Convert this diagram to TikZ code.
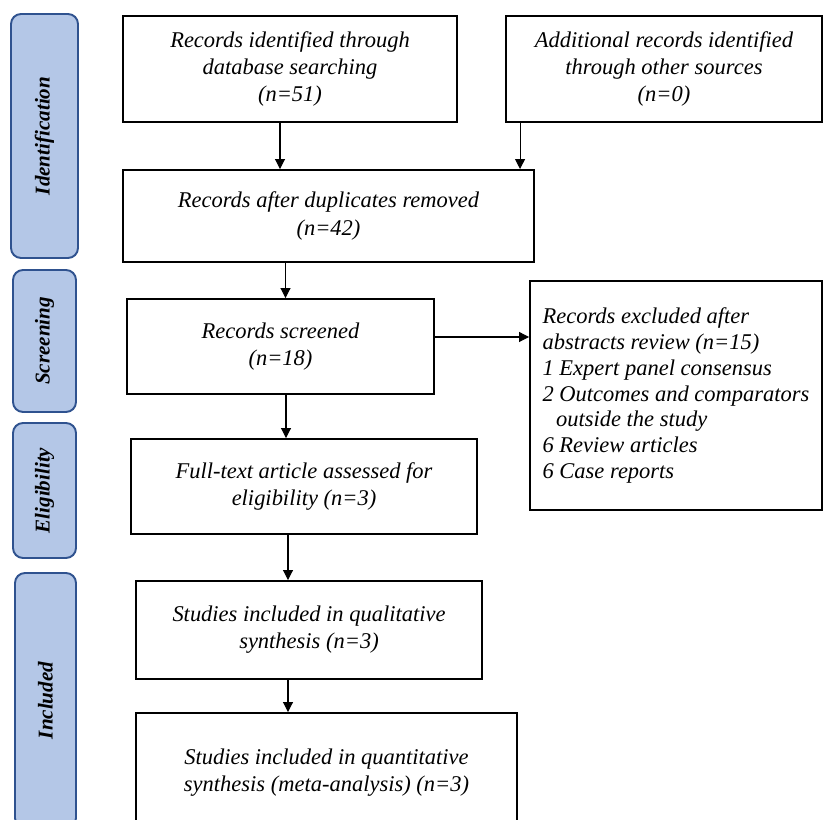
\documentclass[tikz,border=0pt]{standalone}
\usepackage{fontspec}
\setmainfont{Liberation Serif}
\usetikzlibrary{arrows.meta}
\definecolor{phasefill}{HTML}{B4C7E7}
\definecolor{phasedraw}{HTML}{2F528F}

\begin{document}
\begin{tikzpicture}[
    box/.style={draw, line width=1.1pt, align=center, inner sep=2pt,
      font=\fontsize{12.8}{15.4}\selectfont\itshape},
    phase/.style={draw=phasedraw, fill=phasefill, line width=1.1pt,
      rounded corners=0.2cm, rotate=90,
      font=\fontsize{12}{14}\selectfont\bfseries\itshape},
    arr/.style={-{Triangle[length=0.2cm,width=0.2cm]}, line width=0.6pt}
  ]
  \clip (0,0) rectangle (16.5,16.4);

  % Phases
  \node[phase, minimum width=4.88cm, minimum height=1.34cm] (pid) at (0.89,13.68) {Identification};
  \node[phase, minimum width=2.84cm, minimum height=1.26cm] (pscr) at (0.89,9.58) {Screening};
  \node[phase, minimum width=2.70cm, minimum height=1.26cm] (pelig) at (0.89,6.59) {Eligibility};
  \node[phase, minimum width=5.10cm, minimum height=1.22cm] (pincl) at (0.91,2.39) {Included};

  % Boxes
  \node[box, minimum width=6.68cm, minimum height=2.12cm] (rec) at (5.80,15.02)
    {Records identified through\\database searching\\(n=51)};
  \node[box, minimum width=6.32cm, minimum height=2.12cm] (add) at (13.28,15.02)
    {Additional records identified\\through other sources\\(n=0)};
  \node[box, minimum width=8.22cm, minimum height=1.84cm] (dup) at (6.57,12.08)
    {Records after duplicates removed\\(n=42)};
  \node[box, minimum width=6.14cm, minimum height=1.90cm] (scr) at (5.61,9.47)
    {Records screened\\(n=18)};
  \node[box, align=left, minimum width=5.84cm, minimum height=4.58cm,
    font=\fontsize{12.8}{14.7}\selectfont\itshape] (excl) at (13.52,8.49)
    {Records excluded after\\abstracts review (n=15)\\1 Expert panel consensus\\2 Outcomes and comparators\\\hspace*{0.6em}outside the study\\6 Review articles\\6 Case reports};
  \node[box, minimum width=6.92cm, minimum height=1.90cm] (elig) at (6.08,6.67)
    {Full-text article assessed for\\eligibility (n=3)};
  \node[box, minimum width=6.92cm, minimum height=1.96cm] (qual) at (6.18,3.80)
    {Studies included in qualitative\\synthesis (n=3)};
  \node[box, minimum width=7.62cm, minimum height=2.38cm] (quant) at (6.53,0.95)
    {Studies included in quantitative\\synthesis (meta-analysis) (n=3)};

  % Arrows
  \draw[arr] ([xshift=-0.2cm]rec.south) -- ([xshift=-0.2cm]rec.south |- dup.north);
  \draw[arr] ([xshift=0.3cm]add.south west) -- ([xshift=0.3cm]add.south west |- dup.north);
  \draw[arr] ([xshift=0.1cm]scr.north |- dup.south) -- ([xshift=0.1cm]scr.north);
  \draw[arr] ([xshift=0.11cm]scr.south) -- ([xshift=0.11cm]scr.south |- elig.north);
  \draw[arr] ([yshift=0.19cm]scr.east) -- ([yshift=0.19cm]scr.east -| excl.west);
  \draw[arr] ([xshift=-0.42cm]qual.north |- elig.south) -- ([xshift=-0.42cm]qual.north);
  \draw[arr] ([xshift=-0.42cm]qual.south) -- ([xshift=-0.42cm]qual.south |- quant.north);
\end{tikzpicture}
\end{document}
